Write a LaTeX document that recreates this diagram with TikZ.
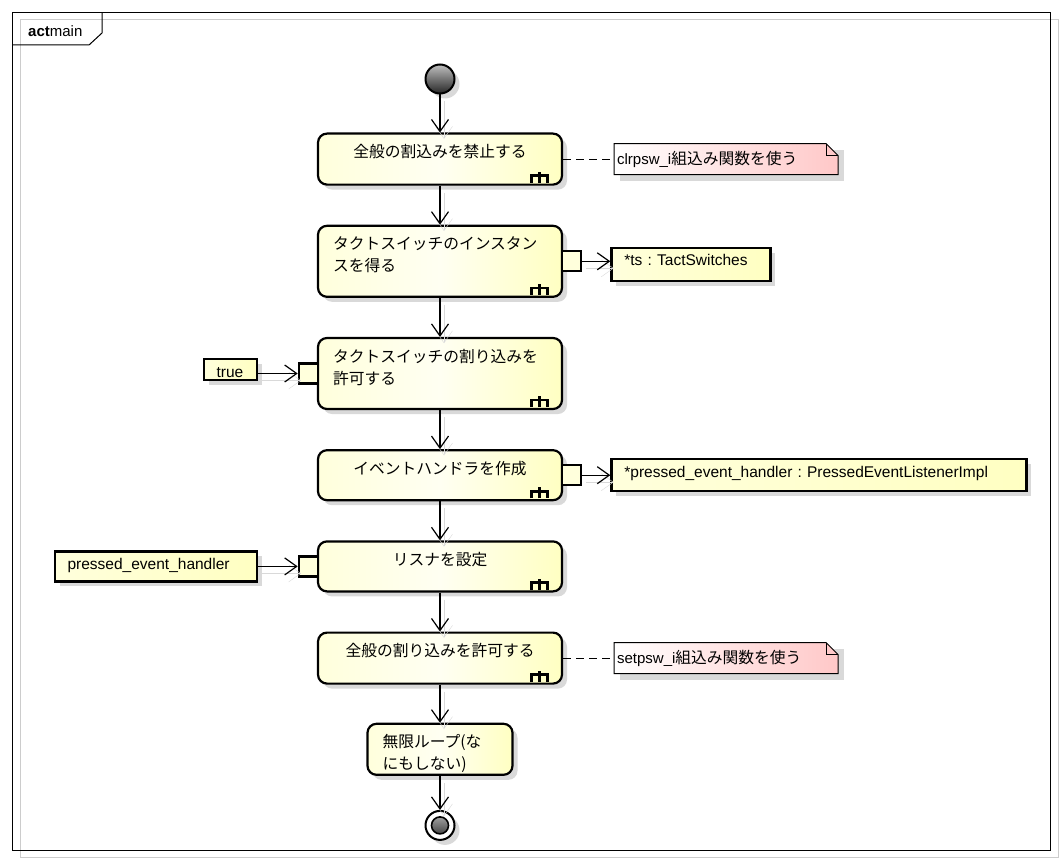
\documentclass[tikz,border=0pt]{standalone}
\usepackage{fontspec}
\setmainfont{Liberation Sans}
\newfontfamily\jpfont[Scale=1.05]{Noto Sans CJK JP}
\usepackage{tikz}
\usetikzlibrary{arrows.meta,positioning,shadows,backgrounds}
\frenchspacing
\definecolor{actleft}{HTML}{FFFFDC}
\definecolor{actmid}{HTML}{FFFFF2}
\definecolor{actright}{HTML}{FFFFC2}
\definecolor{notepink}{HTML}{FFC8C8}
\definecolor{shadowgray}{HTML}{D9D9D9}
\tikzset{
  boxshadow/.style={drop shadow={shadow xshift=5pt, shadow yshift=-5pt, fill=shadowgray, opacity=1}},
  actbox/.style={draw=black, line width=2.2pt, rounded corners=9pt, left color=actleft, right color=actright, middle color=actmid, text width=214pt, inner xsep=15pt, inner ysep=0pt, text height=24pt, text depth=#1, align=center, font=\fontsize{15pt}{22pt}\jpfont, boxshadow},
  pinbox/.style={draw=black, line width=2.2pt, fill=actleft, minimum width=19pt, minimum height=20pt, inner sep=0pt},
  objbox/.style={draw=black, line width=2.2pt, left color=actleft, right color=actright, inner xsep=13pt, inner ysep=0pt, text height=18pt, text depth=#1, align=left, font=\fontsize{15.5pt}{18pt}\selectfont, boxshadow},
  notebox/.style={minimum height=31pt, text width=218pt, inner xsep=3pt, inner ysep=0pt, outer sep=0pt, align=left, font=\fontsize{15pt}{18pt}\selectfont},
  startnode/.style={circle, draw=black, line width=2pt, top color=black!25, bottom color=black!85, minimum size=29pt, inner sep=0pt, boxshadow},
  finalnode/.style={circle, draw=black, line width=2pt, fill=white, minimum size=29pt, inner sep=0pt, boxshadow,
    path picture={\draw[line width=1.6pt, top color=black!25, bottom color=black!85] (path picture bounding box.center) circle (8.5pt);}},
  flow/.style={-{Straight Barb[length=12pt,width=17pt]}, line width=1.2pt, preaction={draw=shadowgray, transform canvas={shift={(4pt,-7pt)}}}},
  notelink/.style={line width=1pt, dash pattern=on 8pt off 5pt},
  rakeline/.style={line width=2.6pt}
}
\newcommand{\rakeicon}[1]{%
  \draw[rakeline] ([xshift=-31.5pt,yshift=3pt]#1.south east) |- ([xshift=-15.5pt,yshift=10pt]#1.south east) -- ([xshift=-15.5pt,yshift=3pt]#1.south east);
  \draw[rakeline] ([xshift=-23.5pt,yshift=3pt]#1.south east) -- ([xshift=-23.5pt,yshift=14pt]#1.south east);}
\newcommand{\notebg}[1]{%
  \begin{scope}[on background layer]
    \fill[shadowgray] ([shift={(6pt,-6pt)}]#1.north west) rectangle ([shift={(6pt,-6pt)}]#1.south east);
    \draw[line width=1pt, left color=white, right color=notepink] (#1.north west) -- ([xshift=-12pt]#1.north east) -- ([yshift=-12pt]#1.north east) -- (#1.south east) -- (#1.south west) -- cycle;
    \draw[line width=1pt] ([xshift=-12pt]#1.north east) |- ([yshift=-12pt]#1.north east);
  \end{scope}}

\begin{document}
\begin{tikzpicture}[x=1pt, y=-1pt, node distance=39pt]
  \useasboundingbox (0,0) rectangle (1062,864);
  % frame
  \draw[black!20, line width=1pt] (20,20) rectangle (1058,857);
  \draw[line width=1pt] (12,13) rectangle (1050,850);
  \draw[line width=1pt] (12,45) -- (89,45) -- (102,33) -- (102,13);
  \node[anchor=base west, inner sep=0pt, font=\fontsize{15pt}{18pt}\selectfont] (framelabel) at (28,37) {\textbf{act}main};

  \node[startnode] (start) at (440,79) {};
  \node[actbox=27pt, below=38pt of start] (a1) {全般の割込みを禁止する};
  \node[actbox=47pt, align=left, below=of a1] (a2) {タクトスイッチのインスタン\\スを得る};
  \node[actbox=47pt, align=left, below=of a2] (a3) {タクトスイッチの割り込みを\\許可する};
  \node[actbox=26pt, below=of a3] (a4) {イベントハンドラを作成};
  \node[actbox=26pt, below=of a4] (a5) {リスナを設定};
  \node[actbox=27pt, below=of a5] (a6) {全般の割り込みを許可する};
  \node[actbox=27pt, align=left, text width=115pt, below=38pt of a6] (a7) {無限ループ(な\\にもしない)};
  \node[finalnode, below=34pt of a7] (finish) {};

  \node[pinbox, right=-2pt of a2] (pinb) {};
  \node[objbox=15pt, text width=133pt, right=28pt of pinb, yshift=-3pt] (tsobj) {*ts : TactSwitches};
  \node[pinbox, left=-2pt of a3] (pinc) {};
  \node[objbox=3pt, text width=27pt, left=40pt of pinc, yshift=4pt] (valtrue) {true};
  \node[pinbox, right=-2pt of a4] (pind) {};
  \node[objbox=14pt, text width=389pt, right=28pt of pind] (handlerobj) {*pressed\_event\_handler : PressedEventListenerImpl};
  \node[pinbox, left=-2pt of a5] (pine) {};
  \node[objbox=12pt, text width=176pt, left=40pt of pine] (handlerval) {pressed\_event\_handler};

  \node[notebox, right=51pt of a1] (note1) {clrpsw\_i{\jpfont 組込み関数を使う}};
  \node[notebox, right=51pt of a6] (note2) {setpsw\_i{\jpfont 組込み関数を使う}};
  \notebg{note1}
  \notebg{note2}

  \draw[flow] (start) -- (a1);
  \draw[flow] (a1) -- (a2);
  \draw[flow] (a2) -- (a3);
  \draw[flow] (a3) -- (a4);
  \draw[flow] (a4) -- (a5);
  \draw[flow] (a5) -- (a6);
  \draw[flow] (a6) -- (a7);
  \draw[flow] (a7) -- (finish);
  \draw[flow] (pinb.east) -- (pinb.east -| tsobj.west);
  \draw[flow] (valtrue.east |- pinc.west) -- (pinc.west);
  \draw[flow] (pind) -- (handlerobj);
  \draw[flow] (handlerval) -- (pine);
  \draw[notelink] (a1) -- (note1);
  \draw[notelink] (a6) -- (note2);

  \rakeicon{a1}
  \rakeicon{a2}
  \rakeicon{a3}
  \rakeicon{a4}
  \rakeicon{a5}
  \rakeicon{a6}
\end{tikzpicture}
\end{document}
